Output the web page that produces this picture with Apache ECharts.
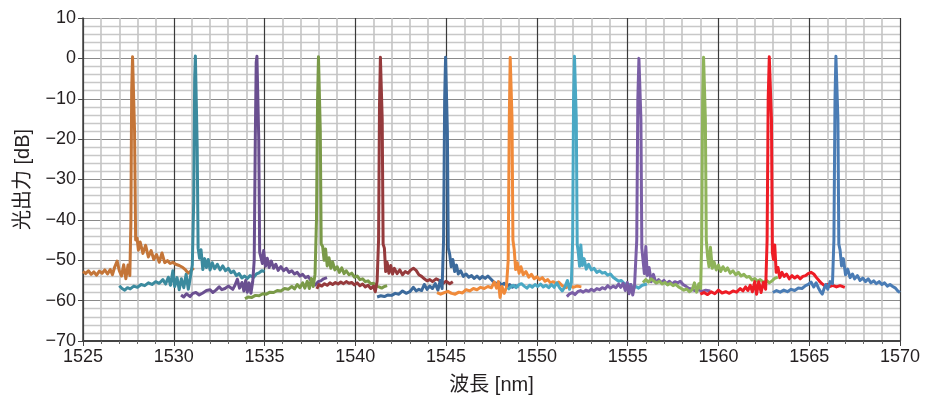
<!DOCTYPE html>
<html>
<head>
<meta charset="utf-8">
<script src="https://cdn.jsdelivr.net/npm/echarts@6/dist/echarts.min.js"></script>
<style>
html,body{margin:0;padding:0;background:#fff;}
#chart{width:927px;height:406px;}
</style>
</head>
<body>
<div id="chart"></div>
<script>
// Axis ranges / ticks
const xRange = [1525, 1570];
const yRange = [-70, 10];
const xTickStep = 5;
const yTickStep = 10;
const xName = '波長 [nm]';
const yName = '光出力 [dB]';

// Spectra: [wavelength nm, optical power dB]
const ch1 = [[1525.0,-52.8],[1525.15,-53.3],[1525.3,-52.6],[1525.45,-53.5],[1525.6,-52.9],[1525.75,-53.7],[1525.9,-52.7],[1526.05,-53.2],[1526.2,-52.4],[1526.35,-53.4],[1526.5,-52.3],[1526.62,-53.6],[1526.75,-51.6],[1526.88,-50.2],[1527.0,-52.6],[1527.12,-53.9],[1527.24,-51.1],[1527.36,-54.6],[1527.48,-51.2],[1527.58,-53.8],[1527.64,-40],[1527.68,-8],[1527.73,0.4],[1527.79,0.3],[1527.84,-18],[1527.9,-45],[1527.98,-44.5],[1528.05,-47.5],[1528.15,-45.5],[1528.3,-48.3],[1528.45,-46.3],[1528.6,-49.2],[1528.75,-47.6],[1528.9,-49.8],[1529.05,-48.6],[1529.2,-50.5],[1529.35,-48.2],[1529.5,-50.6],[1529.65,-50.1],[1529.8,-50.8],[1529.95,-50.5],[1530.1,-51.0],[1530.3,-51.3],[1530.5,-51.8],[1530.65,-52.4],[1530.8,-53.2],[1530.95,-52.6],[1531.1,-51.9]];
const ch2 = [[1527.0,-56.3],[1527.15,-57.0],[1527.3,-57.4],[1527.45,-56.8],[1527.6,-57.1],[1527.8,-56.4],[1528.0,-56.7],[1528.2,-56.0],[1528.4,-56.3],[1528.6,-55.6],[1528.8,-56.0],[1529.0,-55.3],[1529.2,-55.7],[1529.4,-54.8],[1529.55,-55.9],[1529.7,-54.2],[1529.82,-56.2],[1529.95,-52.6],[1530.05,-56.5],[1530.18,-54.3],[1530.3,-57.3],[1530.42,-54.6],[1530.55,-56.8],[1530.68,-53.5],[1530.8,-57.2],[1530.92,-54.0],[1531.02,-51.2],[1531.1,-35],[1531.15,-5],[1531.19,0.6],[1531.24,0.2],[1531.29,-22],[1531.34,-47],[1531.42,-49.5],[1531.5,-47.4],[1531.6,-52.3],[1531.7,-49.6],[1531.8,-51.8],[1531.9,-49.8],[1532.0,-52.4],[1532.12,-50.6],[1532.25,-52.1],[1532.4,-51.0],[1532.55,-52.4],[1532.7,-51.4],[1532.85,-52.6],[1533.0,-52.0],[1533.15,-53.1],[1533.3,-52.7],[1533.45,-53.8],[1533.6,-53.3],[1533.75,-54.4],[1533.9,-53.9],[1534.05,-54.5],[1534.2,-53.8],[1534.4,-54.2],[1534.55,-53.4],[1534.7,-53.1],[1534.85,-52.6],[1535.0,-52.8]];
const ch3 = [[1530.4,-58.6],[1530.55,-59.1],[1530.7,-58.3],[1530.9,-59.0],[1531.05,-58.2],[1531.22,-58.0],[1531.4,-58.6],[1531.6,-58.1],[1531.8,-57.5],[1532.0,-57.3],[1532.15,-58.0],[1532.32,-57.4],[1532.5,-56.6],[1532.65,-57.3],[1532.82,-57.0],[1533.0,-56.4],[1533.1,-56.8],[1533.25,-57.2],[1533.37,-56.2],[1533.5,-54.7],[1533.62,-56.9],[1533.76,-55.5],[1533.86,-57.6],[1533.96,-55.0],[1534.05,-57.9],[1534.15,-55.6],[1534.25,-58.2],[1534.35,-55.2],[1534.43,-50],[1534.49,-20],[1534.54,-1],[1534.58,0.5],[1534.63,0.2],[1534.68,-20],[1534.73,-48],[1534.8,-48.3],[1534.88,-50.8],[1534.95,-47.6],[1535.05,-51.5],[1535.15,-49.5],[1535.25,-51.8],[1535.37,-50.2],[1535.5,-52.0],[1535.62,-51.0],[1535.75,-52.5],[1535.9,-51.6],[1536.05,-52.6],[1536.2,-52.0],[1536.35,-53.0],[1536.5,-52.6],[1536.65,-53.4],[1536.8,-53.0],[1536.95,-53.9],[1537.1,-53.5],[1537.25,-54.3],[1537.4,-54.0],[1537.55,-55.0],[1537.67,-55.5],[1537.8,-56.1],[1537.95,-55.3],[1538.1,-55.1],[1538.25,-54.6],[1538.44,-54.3]];
const ch4 = [[1533.92,-59.5],[1534.1,-59.1],[1534.3,-59.2],[1534.5,-58.7],[1534.7,-58.8],[1534.9,-58.3],[1535.1,-58.4],[1535.3,-57.9],[1535.5,-58.0],[1535.7,-57.5],[1535.9,-57.6],[1536.1,-57.0],[1536.3,-57.2],[1536.5,-56.5],[1536.65,-57.1],[1536.8,-56.0],[1536.95,-56.8],[1537.1,-55.6],[1537.22,-56.9],[1537.35,-55.2],[1537.47,-57.0],[1537.58,-54.5],[1537.68,-56.5],[1537.78,-53.5],[1537.86,-40],[1537.92,-10],[1537.97,0.4],[1538.02,0.2],[1538.07,-18],[1538.12,-46],[1538.2,-46.6],[1538.28,-50.0],[1538.36,-47.2],[1538.45,-51.4],[1538.55,-49.4],[1538.65,-52.0],[1538.75,-50.4],[1538.87,-52.4],[1539.0,-51.6],[1539.12,-53.0],[1539.25,-51.9],[1539.38,-53.3],[1539.5,-52.6],[1539.65,-53.6],[1539.8,-53.2],[1539.95,-54.2],[1540.1,-53.9],[1540.25,-54.8],[1540.4,-54.6],[1540.55,-55.3],[1540.7,-55.1],[1540.85,-55.8],[1541.0,-55.7],[1541.15,-56.4],[1541.3,-56.6],[1541.45,-56.9],[1541.6,-56.5],[1541.75,-56.3]];
const ch5 = [[1537.88,-57.1],[1538.0,-56.0],[1538.15,-56.4],[1538.3,-55.8],[1538.45,-56.2],[1538.6,-55.6],[1538.75,-56.0],[1538.9,-55.5],[1539.05,-55.9],[1539.2,-55.4],[1539.35,-55.8],[1539.5,-55.3],[1539.65,-55.7],[1539.8,-55.5],[1539.95,-56.1],[1540.1,-55.6],[1540.25,-56.3],[1540.4,-55.9],[1540.55,-56.6],[1540.7,-56.2],[1540.85,-57.0],[1541.0,-56.4],[1541.1,-57.8],[1541.2,-55.2],[1541.28,-45],[1541.33,-12],[1541.38,0.3],[1541.43,0.1],[1541.48,-15],[1541.53,-46],[1541.6,-47.0],[1541.67,-52.8],[1541.75,-50.5],[1541.85,-53.2],[1541.95,-51.3],[1542.05,-53.4],[1542.15,-52.0],[1542.3,-53.3],[1542.45,-52.4],[1542.6,-53.6],[1542.75,-52.8],[1542.9,-53.2],[1543.05,-52.4],[1543.2,-52.0],[1543.35,-52.5],[1543.5,-53.6],[1543.65,-54.0],[1543.8,-54.6],[1543.95,-55.1],[1544.1,-54.8],[1544.25,-55.3],[1544.45,-54.6],[1544.6,-54.9],[1544.8,-55.8],[1545.0,-55.2],[1545.2,-55.8],[1545.37,-55.3]];
const ch6 = [[1541.2,-59.1],[1541.4,-58.8],[1541.6,-59.0],[1541.8,-58.6],[1542.0,-58.7],[1542.2,-58.2],[1542.4,-58.4],[1542.6,-57.6],[1542.8,-58.2],[1543.0,-57.8],[1543.2,-56.7],[1543.35,-57.6],[1543.5,-57.2],[1543.65,-57.5],[1543.8,-56.0],[1543.95,-57.2],[1544.1,-56.4],[1544.25,-57.0],[1544.4,-55.8],[1544.55,-57.4],[1544.68,-55.0],[1544.78,-57.0],[1544.86,-45],[1544.92,-10],[1544.97,0.3],[1545.02,0.2],[1545.07,-18],[1545.12,-47],[1545.2,-48.6],[1545.28,-51.6],[1545.37,-49.8],[1545.47,-52.8],[1545.57,-51.2],[1545.67,-53.4],[1545.8,-52.6],[1545.95,-54.0],[1546.1,-53.4],[1546.25,-54.2],[1546.4,-53.8],[1546.55,-54.5],[1546.7,-53.9],[1546.85,-54.6],[1547.0,-54.0],[1547.15,-54.5],[1547.3,-53.9],[1547.45,-54.6],[1547.6,-55.3],[1547.75,-55.8],[1547.9,-55.4],[1548.05,-56.2],[1548.2,-55.7],[1548.35,-56.4],[1548.5,-56.0],[1548.65,-56.7],[1548.8,-56.3],[1549.0,-56.6]];
const ch7 = [[1544.5,-58.0],[1544.7,-58.4],[1544.9,-58.0],[1545.1,-57.7],[1545.3,-58.2],[1545.5,-58.4],[1545.7,-57.9],[1545.9,-58.1],[1546.1,-57.3],[1546.3,-57.6],[1546.5,-57.0],[1546.7,-57.3],[1546.9,-56.7],[1547.1,-57.0],[1547.3,-56.5],[1547.5,-56.8],[1547.65,-55.4],[1547.78,-56.9],[1547.88,-55.3],[1547.97,-59.2],[1548.08,-56.5],[1548.2,-58.2],[1548.32,-56.8],[1548.42,-50],[1548.48,-15],[1548.53,0.2],[1548.58,0.5],[1548.63,-15],[1548.68,-45],[1548.75,-47.3],[1548.83,-52.3],[1548.92,-50.6],[1549.02,-53.2],[1549.12,-51.6],[1549.25,-53.6],[1549.4,-52.8],[1549.55,-54.2],[1549.7,-53.5],[1549.85,-54.6],[1550.0,-54.1],[1550.15,-54.8],[1550.3,-54.3],[1550.45,-55.2],[1550.6,-54.8],[1550.75,-55.6],[1550.9,-55.3],[1551.05,-55.8],[1551.2,-55.4],[1551.4,-56.3],[1551.6,-56.8],[1551.8,-56.3],[1552.0,-56.7],[1552.2,-56.4],[1552.45,-56.6]];
const ch8 = [[1548.4,-57.3],[1548.55,-56.6],[1548.7,-56.2],[1548.85,-56.8],[1549.0,-56.1],[1549.15,-55.8],[1549.3,-56.4],[1549.45,-56.9],[1549.6,-56.2],[1549.75,-56.7],[1549.9,-56.0],[1550.05,-56.5],[1550.2,-55.9],[1550.35,-56.6],[1550.5,-56.2],[1550.65,-56.8],[1550.8,-56.0],[1550.95,-56.7],[1551.1,-55.6],[1551.25,-56.8],[1551.4,-57.6],[1551.55,-56.5],[1551.68,-55.0],[1551.8,-57.2],[1551.9,-55.5],[1551.97,-45],[1552.02,-10],[1552.07,0.5],[1552.12,0.3],[1552.17,-15],[1552.22,-46],[1552.28,-48.0],[1552.35,-51.5],[1552.42,-46.2],[1552.5,-51.3],[1552.6,-49.6],[1552.72,-52.2],[1552.85,-51.0],[1553.0,-52.4],[1553.15,-52.0],[1553.3,-53.0],[1553.45,-52.6],[1553.6,-53.2],[1553.75,-53.0],[1553.9,-53.7],[1554.05,-53.4],[1554.2,-54.2],[1554.35,-54.7],[1554.5,-55.2],[1554.65,-55.0],[1554.8,-55.7],[1555.0,-56.3],[1555.15,-56.0],[1555.3,-57.0],[1555.45,-56.5],[1555.6,-56.9],[1555.8,-56.2],[1556.06,-55.9]];
const ch9 = [[1551.65,-59.0],[1551.8,-58.3],[1551.95,-58.0],[1552.1,-58.5],[1552.25,-57.8],[1552.4,-57.5],[1552.55,-57.9],[1552.7,-57.4],[1552.85,-57.7],[1553.0,-57.2],[1553.15,-57.6],[1553.3,-57.0],[1553.45,-57.3],[1553.6,-56.8],[1553.75,-57.1],[1553.9,-56.3],[1554.05,-56.9],[1554.2,-56.4],[1554.35,-56.8],[1554.5,-55.9],[1554.62,-56.7],[1554.75,-55.7],[1554.87,-57.5],[1554.98,-55.5],[1555.08,-58.3],[1555.18,-56.0],[1555.28,-58.6],[1555.38,-56.2],[1555.5,-45],[1555.56,-10],[1555.62,0.0],[1555.68,0.3],[1555.73,-15],[1555.78,-47],[1555.85,-47.3],[1555.92,-53.3],[1556.0,-46.6],[1556.08,-53.8],[1556.18,-51.8],[1556.3,-55.3],[1556.42,-53.5],[1556.55,-55.6],[1556.7,-54.8],[1556.85,-55.5],[1557.0,-55.0],[1557.15,-55.8],[1557.3,-55.2],[1557.45,-55.9],[1557.6,-55.3],[1557.75,-55.6],[1557.9,-55.2],[1558.05,-56.0],[1558.2,-56.4],[1558.35,-56.9],[1558.5,-57.1],[1558.7,-57.5],[1558.9,-57.3],[1559.1,-57.7],[1559.3,-57.4],[1559.55,-57.6]];
const ch10 = [[1555.84,-55.5],[1556.0,-54.8],[1556.15,-55.4],[1556.3,-54.6],[1556.45,-55.2],[1556.6,-55.6],[1556.75,-55.2],[1556.9,-55.9],[1557.05,-55.5],[1557.2,-56.1],[1557.35,-55.7],[1557.5,-56.3],[1557.65,-56.0],[1557.8,-56.6],[1557.95,-57.0],[1558.1,-57.4],[1558.25,-57.1],[1558.4,-57.8],[1558.55,-57.3],[1558.68,-55.6],[1558.8,-57.9],[1558.92,-55.8],[1559.02,-57.0],[1559.08,-45],[1559.13,-10],[1559.18,0.3],[1559.23,0.4],[1559.28,-15],[1559.33,-45],[1559.4,-49.0],[1559.48,-51.6],[1559.56,-46.8],[1559.66,-52.0],[1559.76,-50.4],[1559.88,-52.4],[1560.0,-51.2],[1560.12,-52.8],[1560.25,-51.6],[1560.38,-52.6],[1560.5,-51.9],[1560.65,-53.2],[1560.8,-52.6],[1560.95,-53.6],[1561.1,-53.0],[1561.25,-53.9],[1561.4,-53.5],[1561.55,-54.2],[1561.7,-54.0],[1561.85,-54.9],[1562.0,-54.5],[1562.15,-55.2],[1562.3,-54.8],[1562.5,-55.5],[1562.65,-55.0],[1562.8,-55.6],[1562.95,-55.1],[1563.1,-54.5],[1563.27,-54.2]];
const ch11 = [[1559.0,-58.4],[1559.2,-58.0],[1559.4,-58.5],[1559.6,-57.8],[1559.8,-58.3],[1560.0,-57.4],[1560.2,-58.1],[1560.4,-57.8],[1560.6,-58.2],[1560.8,-57.6],[1561.0,-57.9],[1561.2,-57.0],[1561.35,-57.6],[1561.5,-56.6],[1561.62,-57.5],[1561.75,-56.2],[1561.87,-57.8],[1562.0,-55.3],[1562.1,-58.4],[1562.22,-55.3],[1562.35,-58.0],[1562.47,-55.5],[1562.6,-57.2],[1562.68,-45],[1562.74,-10],[1562.8,0.4],[1562.86,0.3],[1562.92,-15],[1562.97,-48],[1563.03,-49.8],[1563.1,-46.2],[1563.18,-53.0],[1563.28,-51.8],[1563.38,-54.3],[1563.5,-53.0],[1563.62,-54.0],[1563.75,-53.4],[1563.9,-54.6],[1564.05,-53.8],[1564.2,-54.4],[1564.35,-53.9],[1564.5,-54.6],[1564.65,-54.0],[1564.8,-53.8],[1564.95,-53.3],[1565.1,-53.0],[1565.25,-53.4],[1565.4,-54.3],[1565.55,-55.1],[1565.7,-55.8],[1565.85,-56.3],[1566.0,-56.0],[1566.15,-56.5],[1566.3,-56.2],[1566.5,-56.6],[1566.7,-56.3],[1566.96,-56.7]];
const ch12 = [[1563.0,-58.0],[1563.2,-57.5],[1563.4,-57.9],[1563.6,-57.4],[1563.8,-57.8],[1564.0,-57.2],[1564.2,-57.5],[1564.4,-56.9],[1564.6,-57.0],[1564.8,-56.3],[1564.95,-56.0],[1565.1,-55.4],[1565.25,-56.6],[1565.38,-55.6],[1565.5,-56.8],[1565.62,-57.8],[1565.72,-58.4],[1565.82,-57.0],[1565.92,-56.0],[1566.02,-57.2],[1566.15,-55.3],[1566.28,-55.8],[1566.36,-45],[1566.42,-10],[1566.47,0.5],[1566.53,0.3],[1566.58,-15],[1566.63,-46],[1566.7,-47.5],[1566.78,-51.4],[1566.88,-49.6],[1567.0,-53.6],[1567.12,-52.2],[1567.25,-54.3],[1567.38,-53.4],[1567.5,-54.6],[1567.65,-53.8],[1567.8,-55.0],[1567.95,-54.4],[1568.1,-55.3],[1568.25,-54.6],[1568.4,-55.6],[1568.55,-55.1],[1568.7,-55.8],[1568.85,-55.3],[1569.0,-56.0],[1569.15,-55.6],[1569.3,-56.4],[1569.45,-56.0],[1569.6,-56.5],[1569.75,-56.9],[1569.88,-57.6],[1570.0,-58.0]];

const channels = [ch1, ch2, ch3, ch4, ch5, ch6, ch7, ch8, ch9, ch10, ch11, ch12];
const colors = ['#c47538','#3b8a9e','#6a4f90','#7a9a48','#953a3c','#3c6a9c','#f08a3a','#4aa8c4','#7a5ea6','#8fb45a','#ee1c25','#4a7cb5'];

const FONT = "'Liberation Sans', 'Noto Sans CJK JP', sans-serif";
const chart = echarts.init(document.getElementById('chart'), null, {renderer: 'canvas'});
chart.setOption({
  animation: false,
  backgroundColor: '#ffffff',
  grid: {left: 83, right: 27, top: 18, bottom: 65, containLabel: false},
  xAxis: {
    type: 'value', min: xRange[0], max: xRange[1], interval: xTickStep,
    name: xName, nameLocation: 'middle', nameGap: 34,
    nameTextStyle: {fontSize: 20, color: '#231f20', fontFamily: FONT},
    axisLine: {show: true, onZero: false, lineStyle: {color: '#444', width: 2}},
    axisTick: {show: true, length: 5, lineStyle: {color: '#444'}},
    minorTick: {show: true, splitNumber: 5, length: 3, lineStyle: {color: '#666'}},
    axisLabel: {fontSize: 18, color: '#231f20', fontFamily: FONT, margin: 7,
      formatter: v => String(v)},
    splitLine: {show: true, lineStyle: {color: '#3a3a3a', width: 1.2}},
    minorSplitLine: {show: true, lineStyle: {color: '#c4c4c4', width: 1.6}}
  },
  yAxis: {
    type: 'value', min: yRange[0], max: yRange[1], interval: yTickStep,
    name: yName, nameLocation: 'middle', nameGap: 50, nameRotate: 90,
    nameTextStyle: {fontSize: 20, color: '#231f20', fontFamily: FONT},
    axisLine: {show: true, onZero: false, lineStyle: {color: '#444', width: 1.5}},
    axisTick: {show: true, length: 5, lineStyle: {color: '#444'}},
    minorTick: {show: false, splitNumber: 5},
    axisLabel: {fontSize: 18, color: '#231f20', fontFamily: FONT, margin: 7,
      formatter: v => (v < 0 ? '\u2212' + Math.abs(v) : String(v))},
    splitLine: {show: true, lineStyle: {color: '#8a8a8a', width: 1.2}},
    minorSplitLine: {show: true, lineStyle: {color: '#c8c8c8', width: 1.4}}
  },
  series: channels.map((d, i) => ({
    type: 'line', data: d, showSymbol: false, symbol: 'none', smooth: false,
    lineStyle: {color: colors[i], width: 3, join: 'round'},
    itemStyle: {color: colors[i]}, z: 3
  }))
});
</script>
</body>
</html>
